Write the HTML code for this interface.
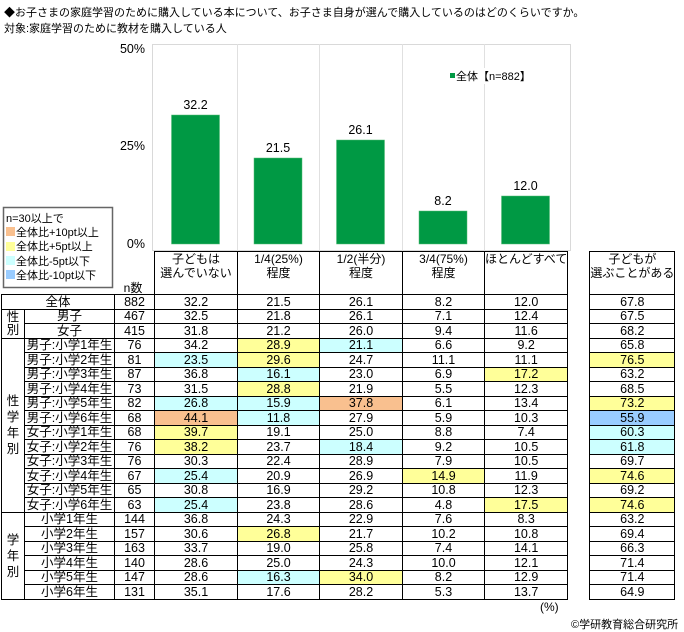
<!DOCTYPE html>
<html><head><meta charset="utf-8"><style>
body{margin:0;width:684px;height:632px;background:#fff;position:relative;overflow:hidden;font-family:"Liberation Sans","Noto Sans CJK JP",sans-serif;color:#000}
.t{position:absolute;font-size:11px;white-space:nowrap}
table{position:absolute;left:1px;top:251px;border-collapse:collapse;table-layout:fixed;font-size:12.5px;line-height:12px}
td{border:1px solid #000;border-top:1px dotted #000;padding:0;height:13.5px;text-align:center;overflow:hidden;white-space:nowrap}
tr.s td{border-top:1px solid #000}
td.g{border-top:1px solid #000;line-height:16px;font-size:12.5px}
td.g2{line-height:13px}
table tr td.n{border-top:none;border-bottom:none}
td.h{height:42px;vertical-align:top;line-height:14px;font-size:12px;border-top:1px solid #000}
.o{background:#f9c08f}.y{background:#ffff99}.c{background:#ccffff}.b{background:#99ccff}
</style></head><body>
<div class="t" style="left:4px;top:4px">◆お子さまの家庭学習のために購入している本について、お子さま自身が選んで購入しているのはどのくらいですか。</div>
<div class="t" style="left:4px;top:20px">対象:家庭学習のために教材を購入している人</div>
<svg width="684" height="300" style="position:absolute;left:0;top:0" font-family="Liberation Sans,Noto Sans CJK JP,sans-serif">
<rect x="152.5" y="44.5" width="418" height="206" fill="none" stroke="#d9d9d9"/>
<g stroke="#e0e0e0"><line x1="237.5" y1="44" x2="237.5" y2="251"/><line x1="319.5" y1="44" x2="319.5" y2="251"/><line x1="402.5" y1="44" x2="402.5" y2="251"/><line x1="484.5" y1="44" x2="484.5" y2="251"/></g>
<g font-size="12.5" text-anchor="end"><text x="145" y="53">50%</text><text x="145" y="150">25%</text><text x="145" y="248">0%</text></g>
<g fill="#009944" stroke="#55bb77" stroke-width="0.5"><rect x="171.5" y="115" width="48" height="129"/><rect x="254" y="158" width="48" height="86"/><rect x="336.5" y="140" width="48" height="104"/><rect x="419" y="211" width="48" height="33"/><rect x="501.5" y="196" width="48" height="48"/></g>
<g font-size="12.5" text-anchor="middle"><text x="195.5" y="109">32.2</text><text x="278" y="152">21.5</text><text x="360.5" y="134">26.1</text><text x="443" y="205">8.2</text><text x="525.5" y="190">12.0</text></g>
<rect x="447" y="68" width="86" height="16" fill="#fff"/>
<rect x="450" y="73" width="5" height="5" fill="#009944"/>
<text x="456" y="80" font-size="11">全体【n=882】</text>
<rect x="3.5" y="207.5" width="109" height="80" fill="#fff" stroke="#666" stroke-width="1.5"/>
<g font-size="11"><text x="6" y="222">n=30以上で</text>
<rect x="6" y="227" width="9" height="9" fill="#f9c08f"/><text x="16" y="236">全体比+10pt以上</text>
<rect x="6" y="242" width="9" height="9" fill="#ffff99"/><text x="16" y="250">全体比+5pt以上</text>
<rect x="6" y="256" width="9" height="9" fill="#ccffff"/><text x="16" y="265">全体比-5pt以下</text>
<rect x="6" y="270" width="9" height="9" fill="#99ccff"/><text x="16" y="279">全体比-10pt以下</text></g>
<text x="133" y="292" font-size="12" text-anchor="middle">n数</text>
</svg>
<table>
<colgroup><col style="width:23px"><col style="width:90px"><col style="width:40px"><col style="width:83px"><col style="width:82px"><col style="width:83px"><col style="width:82px"><col style="width:83px"><col style="width:22px"><col style="width:83px"></colgroup>
<tr><td class="n" style="border:none"></td><td class="n" style="border:none"></td><td class="n" style="border-left:none"></td><td class="h">子どもは<br>選んでいない</td><td class="h">1/4(25%)<br>程度</td><td class="h">1/2(半分)<br>程度</td><td class="h">3/4(75%)<br>程度</td><td class="h">ほとんどすべて</td><td class="n"></td><td class="h">子どもが<br>選ぶことがある</td></tr>
<tr class="s"><td colspan="2">全体</td><td>882</td><td>32.2</td><td>21.5</td><td>26.1</td><td>8.2</td><td>12.0</td><td class="n"></td><td>67.8</td></tr>
<tr class="s"><td class="g g2" rowspan="2">性<br>別</td><td>男子</td><td>467</td><td>32.5</td><td>21.8</td><td>26.1</td><td>7.1</td><td>12.4</td><td class="n"></td><td>67.5</td></tr>
<tr><td>女子</td><td>415</td><td>31.8</td><td>21.2</td><td>26.0</td><td>9.4</td><td>11.6</td><td class="n"></td><td>68.2</td></tr>
<tr class="s"><td class="g" rowspan="12">性<br>学<br>年<br>別</td><td>男子:小学1年生</td><td>76</td><td>34.2</td><td class="y">28.9</td><td class="c">21.1</td><td>6.6</td><td>9.2</td><td class="n"></td><td>65.8</td></tr>
<tr><td>男子:小学2年生</td><td>81</td><td class="c">23.5</td><td class="y">29.6</td><td>24.7</td><td>11.1</td><td>11.1</td><td class="n"></td><td class="y">76.5</td></tr>
<tr><td>男子:小学3年生</td><td>87</td><td>36.8</td><td class="c">16.1</td><td>23.0</td><td>6.9</td><td class="y">17.2</td><td class="n"></td><td>63.2</td></tr>
<tr class="s"><td>男子:小学4年生</td><td>73</td><td>31.5</td><td class="y">28.8</td><td>21.9</td><td>5.5</td><td>12.3</td><td class="n"></td><td>68.5</td></tr>
<tr><td>男子:小学5年生</td><td>82</td><td class="c">26.8</td><td class="c">15.9</td><td class="o">37.8</td><td>6.1</td><td>13.4</td><td class="n"></td><td class="y">73.2</td></tr>
<tr class="s"><td>男子:小学6年生</td><td>68</td><td class="o">44.1</td><td class="c">11.8</td><td>27.9</td><td>5.9</td><td>10.3</td><td class="n"></td><td class="b">55.9</td></tr>
<tr class="s"><td>女子:小学1年生</td><td>68</td><td class="y">39.7</td><td>19.1</td><td>25.0</td><td>8.8</td><td>7.4</td><td class="n"></td><td class="c">60.3</td></tr>
<tr><td>女子:小学2年生</td><td>76</td><td class="y">38.2</td><td>23.7</td><td class="c">18.4</td><td>9.2</td><td>10.5</td><td class="n"></td><td class="c">61.8</td></tr>
<tr><td>女子:小学3年生</td><td>76</td><td>30.3</td><td>22.4</td><td>28.9</td><td>7.9</td><td>10.5</td><td class="n"></td><td>69.7</td></tr>
<tr><td>女子:小学4年生</td><td>67</td><td class="c">25.4</td><td>20.9</td><td>26.9</td><td class="y">14.9</td><td>11.9</td><td class="n"></td><td class="y">74.6</td></tr>
<tr><td>女子:小学5年生</td><td>65</td><td>30.8</td><td>16.9</td><td>29.2</td><td>10.8</td><td>12.3</td><td class="n"></td><td>69.2</td></tr>
<tr><td>女子:小学6年生</td><td>63</td><td class="c">25.4</td><td>23.8</td><td>28.6</td><td>4.8</td><td class="y">17.5</td><td class="n"></td><td class="y">74.6</td></tr>
<tr class="s"><td class="g" rowspan="6">学<br>年<br>別</td><td>小学1年生</td><td>144</td><td>36.8</td><td>24.3</td><td>22.9</td><td>7.6</td><td>8.3</td><td class="n"></td><td>63.2</td></tr>
<tr><td>小学2年生</td><td>157</td><td>30.6</td><td class="y">26.8</td><td>21.7</td><td>10.2</td><td>10.8</td><td class="n"></td><td>69.4</td></tr>
<tr><td>小学3年生</td><td>163</td><td>33.7</td><td>19.0</td><td>25.8</td><td>7.4</td><td>14.1</td><td class="n"></td><td>66.3</td></tr>
<tr><td>小学4年生</td><td>140</td><td>28.6</td><td>25.0</td><td>24.3</td><td>10.0</td><td>12.1</td><td class="n"></td><td>71.4</td></tr>
<tr><td>小学5年生</td><td>147</td><td>28.6</td><td class="c">16.3</td><td class="y">34.0</td><td>8.2</td><td>12.9</td><td class="n"></td><td>71.4</td></tr>
<tr class="s"><td>小学6年生</td><td>131</td><td>35.1</td><td>17.6</td><td>28.2</td><td>5.3</td><td>13.7</td><td class="n"></td><td>64.9</td></tr>
</table>
<div class="t" style="left:540px;top:600px;font-size:12px">(%)</div>
<div class="t" style="left:571px;top:616px;font-size:11px">©学研教育総合研究所</div>
</body></html>
